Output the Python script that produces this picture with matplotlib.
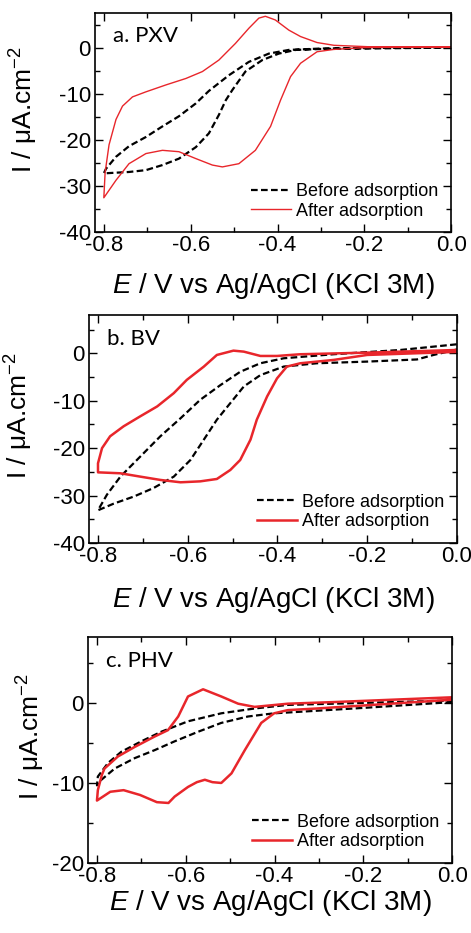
import matplotlib
matplotlib.use('Agg')
import matplotlib.pyplot as plt
from matplotlib.ticker import MultipleLocator

plt.rcParams['font.family'] = ['Liberation Sans', 'DejaVu Sans']
plt.rcParams['axes.unicode_minus'] = False
plt.rcParams['mathtext.fontset'] = 'custom'
plt.rcParams['mathtext.rm'] = 'Liberation Sans'
plt.rcParams['mathtext.it'] = 'Liberation Sans:italic'

# a. PXV  (scan 0 -> -0.8 -> 0)
a_before_E = [0.0, -0.1, -0.2, -0.3, -0.358, -0.397, -0.435, -0.474, -0.504, -0.519, -0.535, -0.558, -0.588,
              -0.627, -0.665, -0.703, -0.742, -0.8,
              -0.795, -0.772, -0.742, -0.703, -0.665, -0.627, -0.588, -0.558, -0.512, -0.466, -0.42, -0.374,
              -0.3, -0.2, -0.1, 0.0]
a_before_I = [0.1, 0.0, -0.1, -0.2, -0.4, -1.2, -2.6, -5.1, -9.1, -11.3, -14.5, -18.5, -21.5,
              -24.0, -25.4, -26.5, -26.9, -27.2,
              -26.2, -23.6, -21.3, -19.3, -17.0, -14.8, -12.0, -9.3, -5.9, -3.0, -1.2, -0.4,
              -0.1, 0.0, 0.1, 0.2]
a_after_E = [0.0, -0.1, -0.2, -0.271, -0.309, -0.347, -0.37, -0.393, -0.416, -0.451, -0.489, -0.527, -0.55,
             -0.588, -0.627, -0.665, -0.703, -0.742, -0.772, -0.8,
             -0.797, -0.788, -0.772, -0.757, -0.734, -0.703, -0.657, -0.611, -0.573, -0.535, -0.497, -0.466,
             -0.443, -0.428, -0.405, -0.374, -0.347, -0.309, -0.27, -0.193, -0.1, 0.0]
a_after_I = [0.2, 0.2, 0.1, -0.3, -0.8, -3.3, -6.2, -11.3, -17.0, -22.2, -25.1, -25.8, -25.4,
             -24.0, -22.5, -22.2, -22.9, -25.1, -28.7, -32.5,
             -27.0, -21.0, -15.5, -12.6, -10.6, -9.5, -8.0, -6.6, -5.1, -2.6, 1.0, 4.3,
             6.5, 6.9, 6.1, 3.9, 2.5, 1.2, 0.6, 0.3, 0.2, 0.2]

# b. BV
b_before_E = [0.0, -0.052, -0.089, -0.2, -0.312, -0.386, -0.438, -0.475, -0.505, -0.535, -0.564, -0.594, -0.631,
              -0.676, -0.72, -0.765, -0.8,
              -0.78, -0.75, -0.706, -0.661, -0.616, -0.572, -0.527, -0.483, -0.438, -0.386, -0.275, -0.126, 0.0]
b_before_I = [0.8, -0.35, -1.3, -1.75, -2.1, -2.8, -4.6, -7.0, -10.5, -14.0, -18.2, -22.5, -26.0,
              -28.4, -30.2, -31.7, -33.1,
              -29.8, -26.0, -21.8, -17.5, -13.7, -9.8, -6.7, -3.9, -2.1, -1.05, -0.2, 0.7, 1.9]
b_after_E = [0.0, -0.2, -0.275, -0.349, -0.379, -0.401, -0.423, -0.446, -0.46, -0.483, -0.505, -0.535, -0.572,
             -0.616, -0.661, -0.706, -0.75, -0.8,
             -0.8, -0.791, -0.773, -0.743, -0.706, -0.668, -0.631, -0.602, -0.564, -0.535, -0.498, -0.475,
             -0.438, -0.401, -0.349, -0.2, 0.0]
b_after_I = [0.3, -0.35, -1.4, -2.1, -2.8, -5.3, -9.1, -14.0, -18.2, -22.5, -24.6, -26.5, -27.0,
             -27.2, -26.7, -26.0, -25.3, -25.1,
             -23.2, -20.0, -17.5, -15.4, -13.3, -11.2, -8.4, -5.6, -2.8, -0.35, 0.56, 0.35,
             -0.56, -0.56, -0.2, 0.14, 0.7]

# c. PHV
c_before_E = [0.0, -0.193, -0.37, -0.401, -0.46, -0.52, -0.572, -0.625, -0.67, -0.715, -0.76, -0.79, -0.8,
              -0.798, -0.775, -0.745, -0.7, -0.655, -0.595, -0.52, -0.445, -0.37, -0.2, 0.0]
c_before_I = [0.1, -0.6, -1.2, -1.3, -1.7, -2.5, -3.6, -4.8, -5.9, -6.9, -8.2, -9.6, -10.3,
              -9.2, -7.5, -6.1, -4.8, -3.6, -2.3, -1.3, -0.7, -0.25, 0.0, 0.3]
c_after_E = [0.0, -0.193, -0.305, -0.37, -0.401, -0.43, -0.467, -0.497, -0.52, -0.54, -0.557, -0.575, -0.595,
             -0.625, -0.639, -0.665, -0.703, -0.74, -0.77, -0.8,
             -0.798, -0.789, -0.783, -0.753, -0.715, -0.67, -0.64, -0.617, -0.595, -0.561, -0.52, -0.482,
             -0.445, -0.37, -0.268, 0.0]
c_after_I = [0.4, -0.3, -0.7, -0.9, -1.3, -2.5, -5.9, -8.8, -10.0, -9.9, -9.6, -9.9, -10.5,
             -11.7, -12.5, -12.4, -11.5, -10.9, -11.1, -12.2,
             -10.9, -9.0, -8.2, -6.7, -5.5, -4.2, -3.4, -1.7, 0.8, 1.7, 0.8, -0.1,
             -0.5, -0.1, 0.1, 0.7]

panels = [
    ('a. PXV', a_before_E, a_before_I, a_after_E, a_after_I, (-40, 7.6), 1.0, [0.202, 0.751, 0.756, 0.235], -0.155, 11),
    ('b. BV', b_before_E, b_before_I, b_after_E, b_after_I, (-40, 8), 1.8, [0.189, 0.418, 0.781, 0.244], -0.147, 13),
    ('c. PHV', c_before_E, c_before_I, c_after_E, c_after_I, (-20, 8.2), 1.8, [0.187, 0.075, 0.773, 0.242], -0.113, 1),
]

red = '#e8262b'
fig = plt.figure(figsize=(4.71, 9.33), dpi=100)
for label, bE, bI, aE, aI, ylim, lw, pos, ylab_x, xpad in panels:
    ax = fig.add_axes(pos)
    ax.plot(bE, bI, color='black', ls='--', lw=1.6, dashes=(3, 1.5), label='Before adsorption')
    ax.plot(aE, aI, color=red, lw=lw, label='After adsorption')
    ax.set_xlim(-0.82, 0.0)
    ax.set_ylim(*ylim)
    ax.xaxis.set_minor_locator(MultipleLocator(0.1))
    ax.yaxis.set_major_locator(MultipleLocator(10))
    ax.yaxis.set_minor_locator(MultipleLocator(5))
    ax.set_xticks([-0.8, -0.6, -0.4, -0.2, 0.0])
    ax.set_xticklabels(['-0.8', '-0.6', '-0.4', '-0.2', '0.0'])
    ax.tick_params(which='both', direction='in', top=True, right=True, labelsize=16)
    ax.tick_params(axis='x', pad=2)
    ax.tick_params(axis='y', pad=3)
    ax.tick_params(which='major', length=6, width=1)
    ax.tick_params(which='minor', length=3.5, width=1)
    for s in ax.spines.values():
        s.set_linewidth(1.2)
    ax.set_xlabel('$E$ / V vs Ag/AgCl (KCl 3M)', fontsize=20, labelpad=xpad)
    ax.set_ylabel('I / μA.cm$^{-2}$', fontsize=19)
    ax.yaxis.set_label_coords(ylab_x, 0.56)
    ax.text(0.05, 0.94, label, transform=ax.transAxes, fontsize=16, va='top', ha='left',
            family=['Lato', 'DejaVu Sans'])
    ax.legend(loc='lower right', frameon=False, fontsize=13, handlelength=2.2, handletextpad=0.3,
              labelspacing=0.15, borderaxespad=0.3)

fig.savefig('out.png', dpi=100)
